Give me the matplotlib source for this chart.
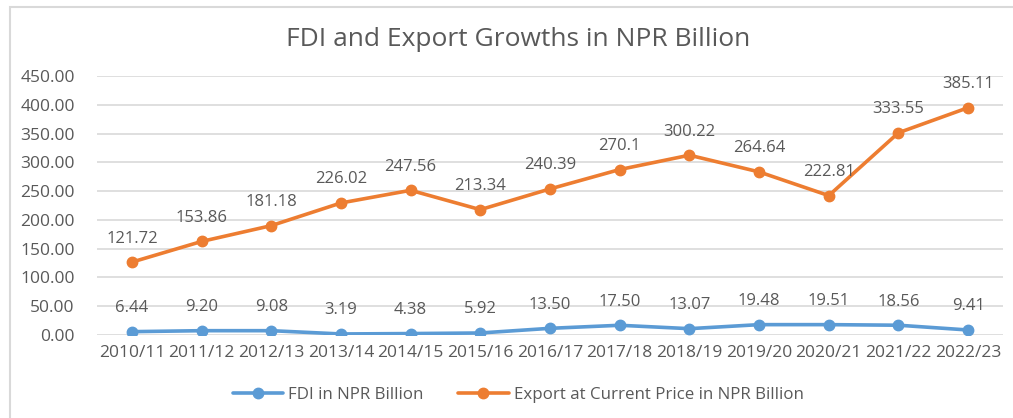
import matplotlib
matplotlib.use("Agg")
import matplotlib.pyplot as plt
from matplotlib.patches import Rectangle

years = ["2010/11", "2011/12", "2012/13", "2013/14", "2014/15", "2015/16", "2016/17",
         "2017/18", "2018/19", "2019/20", "2020/21", "2021/22", "2022/23"]
# plotted positions
fdi = [5.8, 7.5, 7.5, 1.8, 2.5, 3.5, 11.6, 16.9, 11.0, 18.0, 18.0, 17.0, 8.7]
export = [126.6, 162.5, 190.0, 229.4, 251.4, 217.8, 253.8, 287.5, 312.4, 283.4, 242.2, 351.4, 395.0]
# data labels as printed in the picture
fdi_labels = ["6.44", "9.20", "9.08", "3.19", "4.38", "5.92", "13.50", "17.50", "13.07",
              "19.48", "19.51", "18.56", "9.41"]
export_labels = ["121.72", "153.86", "181.18", "226.02", "247.56", "213.34", "240.39",
                 "270.1", "300.22", "264.64", "222.81", "333.55", "385.11"]
yticks = [0, 50, 100, 150, 200, 250, 300, 350, 400, 450]

plt.rcParams['font.family'] = ['Open Sans', 'DejaVu Sans']
TXT = "#595959"
BLUE = "#5B9BD5"
ORANGE = "#ED7D31"
GRID = "#D9D9D9"

W, H = 1013, 418
fig = plt.figure(figsize=(W / 100, H / 100), dpi=100)
fig.patches.append(Rectangle((10 / W, -0.1), 1.2, 1 - 7 / H + 0.1, transform=fig.transFigure,
                             fill=False, edgecolor=GRID, linewidth=1.5))

ax = fig.add_axes([97 / W, 1 - 335 / H, (1003 - 97) / W, (335 - 76) / H])
x = list(range(len(years)))
ax.plot(x, fdi, color=BLUE, lw=2.6, marker='o', ms=7.5, label="FDI in NPR Billion",
        solid_capstyle='round', zorder=3)
ax.plot(x, export, color=ORANGE, lw=2.6, marker='o', ms=7.5,
        label="Export at Current Price in NPR Billion", solid_capstyle='round', zorder=3)

for xi, v, s in zip(x, fdi, fdi_labels):
    ax.annotate(s, (xi, v), xytext=(0, 17), textcoords='offset points', ha='center',
                va='center', fontsize=12, color=TXT)
for xi, v, s in zip(x, export, export_labels):
    ax.annotate(s, (xi, v), xytext=(0, 17), textcoords='offset points', ha='center',
                va='center', fontsize=12, color=TXT)

ax.set_xlim(-0.5, len(years) - 0.5)
ax.set_ylim(0, 450)
ax.set_yticks(yticks)
ax.set_yticklabels([f"{v:.2f}" for v in yticks])
ax.set_xticks(x)
ax.set_xticklabels(years)
ax.tick_params(axis='both', length=0, labelsize=12.5, labelcolor=TXT)
ax.tick_params(axis='y', pad=16)
ax.tick_params(axis='x', pad=7)
ax.grid(axis='y', color=GRID, lw=1.2)
ax.set_axisbelow(True)
for sp in ax.spines.values():
    sp.set_visible(False)

fig.text(518 / W, 1 - 40 / H, "FDI and Export Growths in NPR Billion", ha='center', va='center',
         fontsize=19, color=TXT)

fig.legend(loc='center', bbox_to_anchor=(518 / W, 1 - 395 / H), ncol=2, frameon=False,
           fontsize=12.2, labelcolor=TXT, handlelength=3, columnspacing=2.0, handletextpad=0.3)

fig.savefig("out.png", dpi=100)
